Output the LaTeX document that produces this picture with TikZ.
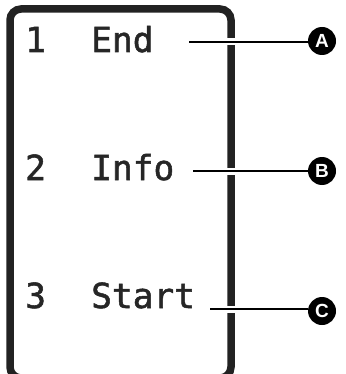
\documentclass[tikz,border=0pt]{standalone}
\usepackage{fontspec}
\setmainfont{Liberation Sans}
\newfontfamily\panelfont{DejaVu Sans Mono}[FakeBold=1.5]
\usetikzlibrary{positioning}
\definecolor{K}{RGB}{34, 34, 34}
\definecolor{T}{RGB}{38, 38, 38}

\tikzset{
  entry/.style={anchor=base west, inner sep=0pt, text=T,
    font=\fontsize{34.5}{36}\selectfont\panelfont},
  callout/.style={circle, fill=black, minimum size=28pt, inner sep=0pt,
    text=white, font=\fontsize{19}{19}\selectfont\bfseries},
  leader/.style={draw=black, line width=2pt,
    preaction={draw=white, line width=7pt}}
}

\begin{document}
\begin{tikzpicture}[x=1pt, y=-1pt]
    \useasboundingbox (0,0) rectangle (345,374);

    %Marco del panel
    \draw[K, line width=7.5pt, rounded corners=11pt] (10,9) rectangle (231,378);

    %Filas del panel
    \node[entry] (n1) at (25,52) {1};
    \node[entry] (w1) at (91,52) {End};
    \node[entry] (n2) at (25,180) {2};
    \node[entry] (w2) at (91,180) {Info};
    \node[entry] (n3) at (25,308) {3};
    \node[entry] (w3) at (91,308) {Start};

    %Marcas A, B y C
    \node[callout] (cA) at (322,41) {A};
    \node[callout] (cB) at (322,171) {B};
    \node[callout] (cC) at (322,311) {C};

    %Lineas de referencia
    \coordinate (s1) at (189,42);
    \coordinate (s2) at (193,171);
    \coordinate (s3) at (210,309);
    \draw[leader] (s1) -- (cA.west |- s1);
    \draw[leader] (s2) -- (cB.west |- s2);
    \draw[leader] (s3) -- (cC.west |- s3);
\end{tikzpicture}
\end{document}
